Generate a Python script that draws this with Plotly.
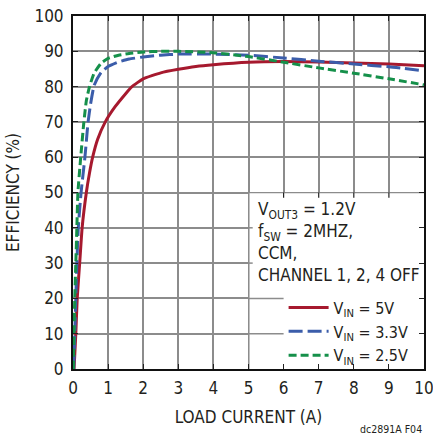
import plotly.graph_objects as go

# ---- data ----
x_5v = [0.03, 0.08, 0.12, 0.19, 0.26, 0.38, 0.47, 0.56, 0.7, 0.92, 1.2, 1.5, 1.68, 2.0, 2.5, 3.0, 3.5, 4.0, 5.0, 6.0, 7.0, 8.0, 9.0, 10.0]
y_5v = [0, 10, 20, 30, 40, 50, 55.5, 60, 65, 70, 74.3, 78, 80, 82.2, 83.9, 84.9, 85.7, 86.2, 86.9, 87.1, 87.0, 86.7, 86.4, 85.9]

x_33v = [0.02, 0.05, 0.08, 0.11, 0.15, 0.23, 0.34, 0.43, 0.5, 0.6, 0.8, 1.0, 1.3, 1.6, 2.0, 2.5, 3.0, 4.0, 5.0, 6.0, 7.0, 8.0, 9.0, 10.0]
y_33v = [0, 10, 20, 30, 40, 50, 60, 70, 75, 80.3, 84, 85.7, 87.0, 87.8, 88.4, 88.9, 89.2, 89.2, 88.9, 88.1, 87.2, 86.4, 85.6, 84.5]

x_25v = [0.01, 0.03, 0.05, 0.08, 0.11, 0.14, 0.22, 0.31, 0.38, 0.47, 0.6, 0.8, 1.0, 1.3, 1.6, 2.0, 2.5, 3.0, 4.0, 5.0, 6.0, 7.0, 8.0, 9.0, 10.0]
y_25v = [0, 10, 20, 30, 40, 50, 60, 70, 76, 80, 83.8, 86.6, 88.0, 88.9, 89.4, 89.8, 90.0, 90.0, 89.6, 88.5, 86.9, 85.3, 83.8, 82.2, 80.5]

series_names = ["V<sub>IN</sub> = 5V", "V<sub>IN</sub> = 3.3V", "V<sub>IN</sub> = 2.5V"]
x_ticks = list(range(0, 11))
y_ticks = list(range(0, 101, 10))

FONT = "Liberation Sans Narrow, Arial Narrow, DejaVu Sans Condensed, sans-serif"
RED = "#A6192E"
BLUE = "#3B5DAA"
GREEN = "#15904A"
GRID = "#8c8c8c"

fig = go.Figure()
fig.add_trace(go.Scatter(x=x_5v, y=y_5v, name=series_names[0], mode="lines",
                         line=dict(color=RED, width=3, shape="spline", smoothing=0.4)))
fig.add_trace(go.Scatter(x=x_33v, y=y_33v, name=series_names[1], mode="lines",
                         line=dict(color=BLUE, width=3, dash="14px,5px", shape="spline", smoothing=0.4)))
fig.add_trace(go.Scatter(x=x_25v, y=y_25v, name=series_names[2], mode="lines",
                         line=dict(color=GREEN, width=3, dash="8px,4px", shape="spline", smoothing=0.4)))

shapes = [
    dict(type="rect", xref="x", yref="y", x0=5.03, x1=10, y0=0, y1=49.8,
         fillcolor="white", line=dict(width=0), layer="between"),
]
for yy in [10, 20]:
    shapes.append(dict(type="line", xref="x", yref="y", x0=5, x1=6, y0=yy, y1=yy,
                       line=dict(color=GRID, width=1.5), layer="between"))
for yy in [30, 40]:
    shapes.append(dict(type="line", xref="x", yref="y", x0=5, x1=5.12, y0=yy, y1=yy,
                       line=dict(color=GRID, width=1.5), layer="between"))
for xx in [6, 7, 8, 9]:
    shapes.append(dict(type="line", xref="x", yref="y", x0=xx, x1=xx, y0=50, y1=48.5,
                       line=dict(color="#222", width=1.2), layer="between"))

fig.update_layout(
    width=433, height=439,
    margin=dict(l=73, r=9, t=16, b=70),
    plot_bgcolor="white", paper_bgcolor="white",
    font=dict(family=FONT, size=17, color="#231f20"),
    showlegend=True,
    legend=dict(x=0.6, y=0.222, xanchor="left", yanchor="top",
                bgcolor="rgba(0,0,0,0)", font=dict(size=16, family=FONT),
                tracegroupgap=0, itemwidth=40),
    shapes=shapes,
    annotations=[
        dict(text="V<sub>OUT3</sub> = 1.2V<br>f<sub>SW</sub> = 2MHZ,<br>CCM,<br>CHANNEL 1, 2, 4 OFF",
             xref="paper", yref="paper", x=0.521, y=0.488, xanchor="left", yanchor="top",
             align="left", showarrow=False, font=dict(size=17, family=FONT)),
        dict(text="dc2891A F04", xref="paper", yref="paper", x=1.0, y=-0.169,
             xanchor="right", yanchor="middle", showarrow=False,
             font=dict(size=10.5, family=FONT)),
    ],
)
fig.update_xaxes(range=[0, 10], tickvals=x_ticks, ticktext=[str(v) for v in x_ticks],
                 showgrid=True, gridcolor=GRID, gridwidth=1.5,
                 showline=True, linecolor="#111", linewidth=2, mirror="ticks",
                 ticks="inside", ticklen=5, tickcolor="#222", tickwidth=1.2,
                 zeroline=False, automargin=False, ticklabeloverflow="allow",
                 ticklabelstandoff=3,
                 title=dict(text="LOAD CURRENT (A)", font=dict(size=17, family=FONT), standoff=14))
fig.update_yaxes(range=[0, 100], tickvals=y_ticks, ticktext=[str(v) for v in y_ticks],
                 showgrid=True, gridcolor=GRID, gridwidth=1.5,
                 showline=True, linecolor="#111", linewidth=2, mirror="ticks",
                 ticks="inside", ticklen=5, tickcolor="#222", tickwidth=1.2,
                 zeroline=False, automargin=False, ticklabeloverflow="allow",
                 ticklabelstandoff=4,
                 title=dict(text="EFFICIENCY (%)", font=dict(size=17, family=FONT), standoff=10))

fig.write_html("out.html", config={"displayModeBar": False},
               post_script="document.body.style.margin='0';")
